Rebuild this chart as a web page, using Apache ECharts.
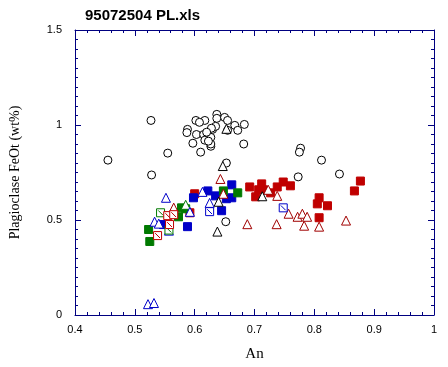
<!DOCTYPE html>
<html><head><meta charset="utf-8">
<script src="https://cdn.jsdelivr.net/npm/echarts@6/dist/echarts.min.js"></script>
<style>html,body{margin:0;padding:0;background:#fff}#c{width:448px;height:367px}</style>
</head><body><div id="c"></div>
<script>
const title = '95072504 PL.xls';
const xName = 'An';
const yName = 'Plagioclase FeOt (wt%)';
const xTickLabels = ['0.4','0.5','0.6','0.7','0.8','0.9','1'];
const yTickLabels = ['0','0.5','1','1.5'];

const blackCircles = [[0.455,0.815],[0.527,1.024],[0.555,0.852],[0.528,0.737],
 [0.602,1.024],[0.617,1.024],[0.608,1.014],[0.588,0.977],[0.587,0.96],[0.603,0.95],[0.615,0.95],[0.623,0.95],
 [0.63,0.977],[0.627,0.935],[0.617,0.92],[0.597,0.904],[0.627,0.888],[0.61,0.857],
 [0.637,1.056],[0.637,1.035],[0.65,1.04],[0.655,1.024],[0.667,0.998],[0.683,1.003],[0.672,0.972],
 [0.655,0.972],[0.635,0.993],[0.628,0.983],[0.62,0.962],[0.627,0.9],[0.623,0.915],[0.682,0.9],
 [0.777,0.878],[0.775,0.857],[0.812,0.815],[0.653,0.8],[0.773,0.727],[0.842,0.742],[0.652,0.491]];
const blackTriangles = [[0.653,0.98],[0.647,0.784],[0.64,0.596],[0.638,0.439],[0.713,0.625]];
const redTriangles = [[0.643,0.716],[0.648,0.638],[0.565,0.565],[0.688,0.478],[0.737,0.478],[0.738,0.627],
 [0.723,0.659],[0.757,0.533],[0.772,0.517],[0.78,0.533],[0.788,0.517],[0.783,0.47],[0.808,0.465],[0.853,0.497]];
const redSquares = [[0.692,0.674],[0.712,0.69],[0.707,0.659],[0.715,0.659],[0.702,0.622],[0.727,0.643],
 [0.738,0.674],[0.748,0.7],[0.76,0.68],[0.808,0.617],[0.805,0.585],[0.822,0.575],[0.808,0.512],
 [0.877,0.705],[0.867,0.653],[0.6,0.638],[0.592,0.538]];
const blueSquares = [[0.598,0.617],[0.622,0.653],[0.635,0.627],[0.662,0.685],[0.653,0.612],[0.662,0.617],
 [0.645,0.549],[0.588,0.465],[0.548,0.476]];
const greenSquares = [[0.523,0.45],[0.525,0.387],[0.573,0.517],[0.578,0.564],[0.585,0.559],[0.648,0.653],[0.672,0.643]];
const greenTriangles = [[0.585,0.58]];
const blueTriangles = [[0.522,0.057],[0.532,0.063],[0.552,0.617],[0.613,0.648],[0.625,0.59],[0.533,0.491],
 [0.54,0.481],[0.557,0.444],[0.592,0.543]];
const greenCrossed = [[0.543,0.538],[0.557,0.447]];
const redCrossed = [[0.555,0.523],[0.565,0.528],[0.558,0.476],[0.538,0.418]];
const blueCrossed = [[0.625,0.544],[0.748,0.564]];

const NAVY = '#000080';
const crossSym = 'path://M0,0L10,0L10,10L0,10Z M2,2L8,8';
function fmt(list){ return v => { const s = String(Number(v.toFixed(2))); return list.includes(s) ? s : ''; }; }
function sc(data, symbol, size, fill, border){
  return {type:'scatter', data, symbol, symbolSize:size, xAxisIndex:0, yAxisIndex:0,
    itemStyle:{color:fill, borderColor:border, borderWidth:1, opacity:1}, emphasis:{disabled:true}};
}
const axisBase = {
  axisLine:{show:true, onZero:false, lineStyle:{color:NAVY, width:1}},
  axisTick:{show:true, inside:true, length:6, lineStyle:{color:NAVY}},
  splitLine:{show:false}
};
const chart = echarts.init(document.getElementById('c'), null, {renderer:'canvas'});
chart.setOption({
  animation:false,
  title:{text:title, left:80, top:3, textStyle:{fontFamily:'Liberation Sans', fontWeight:'bold', fontSize:15, color:'#000'}},
  grid:{left:74, right:14, top:30, bottom:50},
  xAxis:[
    Object.assign({}, axisBase, {type:'value', min:0.4, max:1, interval:0.1, position:'bottom',
      minorTick:{show:true, splitNumber:5, length:3, lineStyle:{color:NAVY}},
      axisLabel:{color:'#000', fontSize:11, fontFamily:'Liberation Sans', margin:9, formatter:fmt(xTickLabels)},
      name:xName, nameLocation:'middle', nameGap:32,
      nameTextStyle:{fontFamily:'Liberation Serif', fontSize:15, color:'#000'}}),
    Object.assign({}, axisBase, {type:'value', min:0.4, max:1, interval:0.1, position:'top',
      minorTick:{show:true, splitNumber:5, length:3, lineStyle:{color:NAVY}},
      axisLabel:{show:false}})
  ],
  yAxis:[
    Object.assign({}, axisBase, {type:'value', min:0, max:1.5, interval:0.5, position:'left',
      minorTick:{show:true, splitNumber:10, length:3, lineStyle:{color:NAVY}},
      axisLabel:{color:'#000', fontSize:11, fontFamily:'Liberation Sans', margin:13, formatter:fmt(yTickLabels)},
      name:yName, nameLocation:'middle', nameGap:53,
      nameTextStyle:{fontFamily:'Liberation Serif', fontSize:14, color:'#000'}}),
    Object.assign({}, axisBase, {type:'value', min:0, max:1.5, interval:0.5, position:'right',
      minorTick:{show:true, splitNumber:10, length:3, lineStyle:{color:NAVY}},
      axisLabel:{show:false}})
  ],
  series:[
    sc(blackCircles, 'circle', 8, '#fff', '#000'),
    sc(redSquares, 'rect', 8, '#C00000', '#C00000'),
    sc(blueSquares, 'rect', 8, '#0000C8', '#0000C8'),
    sc(greenSquares, 'rect', 8, '#007A00', '#007A00'),
    sc(redTriangles, 'triangle', 9, '#fff', '#A00000'),
    sc(blackTriangles, 'triangle', 9, '#fff', '#000'),
    sc(greenTriangles, 'triangle', 9, '#fff', '#007A00'),
    sc(blueTriangles, 'triangle', 9, '#fff', '#0000C8'),
    sc(greenCrossed, crossSym, 8, '#fff', '#007A00'),
    sc(redCrossed, crossSym, 8, '#fff', '#C00000'),
    sc(blueCrossed, crossSym, 8, '#fff', '#0000C8')
  ]
});
</script></body></html>
